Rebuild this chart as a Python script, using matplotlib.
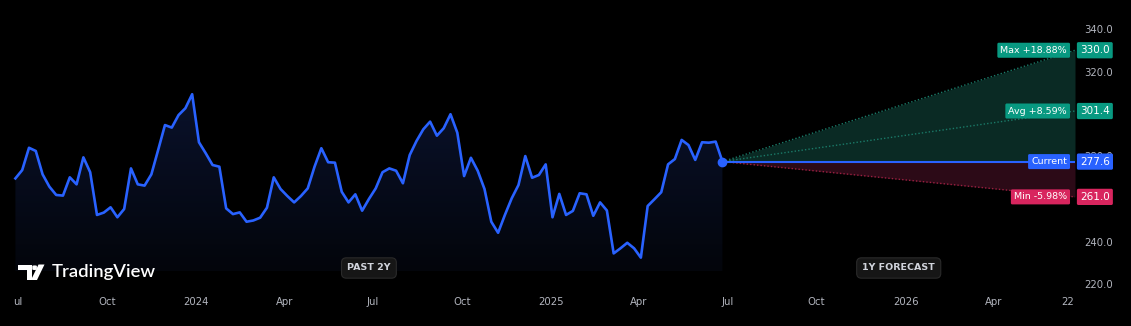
import numpy as np
import pandas as pd
import matplotlib
matplotlib.use("Agg")
import matplotlib.pyplot as plt
import matplotlib.dates as mdates
from matplotlib.patches import Polygon, FancyBboxPatch
from matplotlib.transforms import blended_transform_factory

# ---------------- data ----------------
prices = [
    269.7, 273.6, 284.1, 282.6, 271.6, 265.8, 261.9, 261.6, 270.2, 266.9,
    279.6, 272.6, 252.5, 253.6, 256.1, 251.4, 255.3, 274.4, 266.9, 266.3,
    271.6, 283.1, 294.8, 293.6, 299.5, 302.7, 309.3, 286.7, 281.5, 276.0,
    275.2, 255.6, 252.9, 253.7, 249.3, 249.9, 251.2, 255.9, 270.2, 264.7,
    261.4, 258.4, 261.4, 265.0, 275.2, 283.9, 277.3, 277.1, 263.4, 258.4,
    262.2, 254.5, 260.0, 265.0, 272.6, 274.4, 273.3, 267.4, 280.7, 287.3,
    292.8, 296.4, 289.8, 293.3, 299.9, 291.2, 270.8, 279.4, 273.3, 264.7,
    249.3, 244.1, 252.5, 260.3, 266.6, 280.2, 270.0, 271.3, 276.3, 251.4,
    262.4, 252.5, 254.4, 262.7, 262.2, 252.1, 258.4, 254.6, 234.4, 236.8,
    239.4, 236.8, 232.4, 256.7, 259.9, 263.2, 276.3, 278.8, 287.8, 285.4,
    278.4, 286.7, 286.5, 287.0, 277.6,
]
last_date = pd.Timestamp("2025-06-26")
dates = pd.date_range(end=last_date, periods=len(prices), freq="7D")

current = 277.6
forecast_end = pd.Timestamp("2026-06-24")
forecast_max, forecast_avg, forecast_min = 330.0, 301.4, 261.0
max_lbl, avg_lbl, min_lbl, cur_lbl = "Max +18.88%", "Avg +8.59%", "Min -5.98%", "Current"

x_tick_dates = ["2023-07-01", "2023-10-01", "2024-01-01", "2024-04-01", "2024-07-01",
                "2024-10-01", "2025-01-01", "2025-04-01", "2025-07-01", "2025-10-01",
                "2026-01-01", "2026-04-01", "2026-06-16"]
x_tick_labels = ["ul", "Oct", "2024", "Apr", "Jul", "Oct", "2025", "Apr", "Jul", "Oct",
                 "2026", "Apr", "22"]
y_ticks = [220, 240, 280, 320, 340]

# ---------------- style ----------------
BG = "#000000"
BLUE = "#2962ff"
TEAL = "#089981"
RED = "#d8255e"
TXT = "#b2b5be"

W, H = 1131, 326
fig = plt.figure(figsize=(W / 100, H / 100), dpi=100, facecolor=BG)

def fx(px):
    return px / W

def fy(py):
    return 1 - py / H

ax_bottom_px = 290
ax_right_px = 1075
ax = fig.add_axes([0, fy(ax_bottom_px), fx(ax_right_px), ax_bottom_px / H])
ax.set_facecolor(BG)
for s in ax.spines.values():
    s.set_visible(False)

ppu = 2.125  # pixels per price unit
ax.set_ylim(220 - (ax_bottom_px - 284) / ppu, 340 + 29 / ppu)
x_left = pd.Timestamp("2024-01-01") - pd.Timedelta(days=196 / 0.971)
ax.set_xlim(x_left, forecast_end)

# ---------------- past area with gradient ----------------
fill_bottom = 220 - (271 - 284) / ppu
poly = ax.fill_between(dates, prices, fill_bottom, facecolor="none", edgecolor="none")
grad = np.linspace(0, 1, 256).reshape(-1, 1)
top_c = np.array([10, 18, 44]) / 255
bot_c = np.array([3, 5, 11]) / 255
img = top_c[None, None, :] * (1 - grad[:, :, None]) + bot_c[None, None, :] * grad[:, :, None]
im = ax.imshow(img, aspect="auto", origin="upper",
               extent=[mdates.date2num(dates[0]), mdates.date2num(dates[-1]), fill_bottom, max(prices)],
               zorder=1)
im.set_clip_path(poly.get_paths()[0], transform=ax.transData)

ax.plot(dates, prices, color=BLUE, lw=1.9, zorder=4, solid_joinstyle="round")
ax.plot([dates[-1]], [current], "o", color=BLUE, ms=6, zorder=5)

# ---------------- forecast cone ----------------
xs = [dates[-1], forecast_end]
ax.fill_between(xs, [current, current], [current, forecast_max], color="#0a2a24", lw=0, zorder=2)
ax.fill_between(xs, [current, forecast_min], [current, current], color="#2c0a17", lw=0, zorder=2)
ax.plot(xs, [current, forecast_max], color="#1a7a68", lw=1, ls=(0, (1, 1.5)), zorder=3)
ax.plot(xs, [current, forecast_avg], color="#1a7a68", lw=1, ls=(0, (1, 1.5)), zorder=3)
ax.plot(xs, [current, forecast_min], color="#9a2040", lw=1, ls=(0, (1, 1.5)), zorder=3)
ax.plot(xs, [current, current], color=BLUE, lw=1.5, zorder=4)

# ---------------- axes ticks ----------------
ax.set_xticks([pd.Timestamp(d) for d in x_tick_dates])
ax.set_xticklabels(x_tick_labels)
ax.yaxis.tick_right()
ax.set_yticks(y_ticks)
ax.set_yticklabels([f"{v:.1f}" for v in y_ticks])
ax.tick_params(axis="x", length=0, pad=5, colors=TXT, labelsize=7.3)
ax.tick_params(axis="y", length=0, pad=6.5, colors=TXT, labelsize=7.3)
ax.grid(False)

# ---------------- price labels ----------------
def tag(val, label, color):
    ax.annotate(label, xy=(forecast_end, val), xytext=(-8, 0), textcoords="offset pixels",
                ha="right", va="center", fontsize=6.8, color="white", zorder=10,
                bbox=dict(boxstyle="round,pad=0.32,rounding_size=0.15", fc=color, ec="none"),
                annotation_clip=False)
    ax.annotate(f"{val:.1f}", xy=(forecast_end, val), xytext=(5, 0), textcoords="offset pixels",
                ha="left", va="center", fontsize=7.5, color="white", zorder=10,
                bbox=dict(boxstyle="round,pad=0.3,rounding_size=0.15", fc=color, ec="none"),
                annotation_clip=False)

tag(forecast_max, max_lbl, TEAL)
tag(forecast_avg, avg_lbl, TEAL)
tag(current, cur_lbl, BLUE)
tag(forecast_min, min_lbl, RED)

# ---------------- badges ----------------
trans = blended_transform_factory(ax.transData, ax.transAxes)
badge_y = (ax_bottom_px - 268) / ax_bottom_px
past_mid = dates[0] + (dates[-1] - dates[0]) / 2
fc_mid = dates[-1] + (forecast_end - dates[-1]) / 2
for xm, txt in [(past_mid, "PAST 2Y"), (fc_mid, "1Y FORECAST")]:
    ax.text(xm, badge_y, txt, transform=trans, ha="center", va="center", fontsize=6.8,
            fontweight="bold", color="#d1d4dc", zorder=10,
            bbox=dict(boxstyle="round,pad=0.6,rounding_size=0.5", fc="#161616", ec="#2a2a2a", lw=0.8))

# ---------------- TradingView logo ----------------
def P(px, py):
    return (fx(px), fy(py))

logo_c = "white"
fig.add_artist(Polygon([P(18, 264.5), P(31.5, 264.5), P(31.5, 280), P(26.5, 280), P(26.5, 270), P(18, 270)],
                       closed=True, transform=fig.transFigure, fc=logo_c, ec="none"))
fig.add_artist(FancyBboxPatch(P(32.3, 270), fx(4.6), 4.6 / H, boxstyle="round,pad=0,rounding_size=0.002",
                              transform=fig.transFigure, fc=logo_c, ec="none"))
fig.add_artist(Polygon([P(38.5, 264.5), P(44.5, 264.5), P(37, 280), P(31, 280)],
                       closed=True, transform=fig.transFigure, fc=logo_c, ec="none"))
fig.text(fx(52), fy(272.5), "TradingView", ha="left", va="center", fontsize=13.3,
         fontweight="semibold", color="white", family=["Lato", "DejaVu Sans"])

fig.savefig("out.png", dpi=100, facecolor=BG)
